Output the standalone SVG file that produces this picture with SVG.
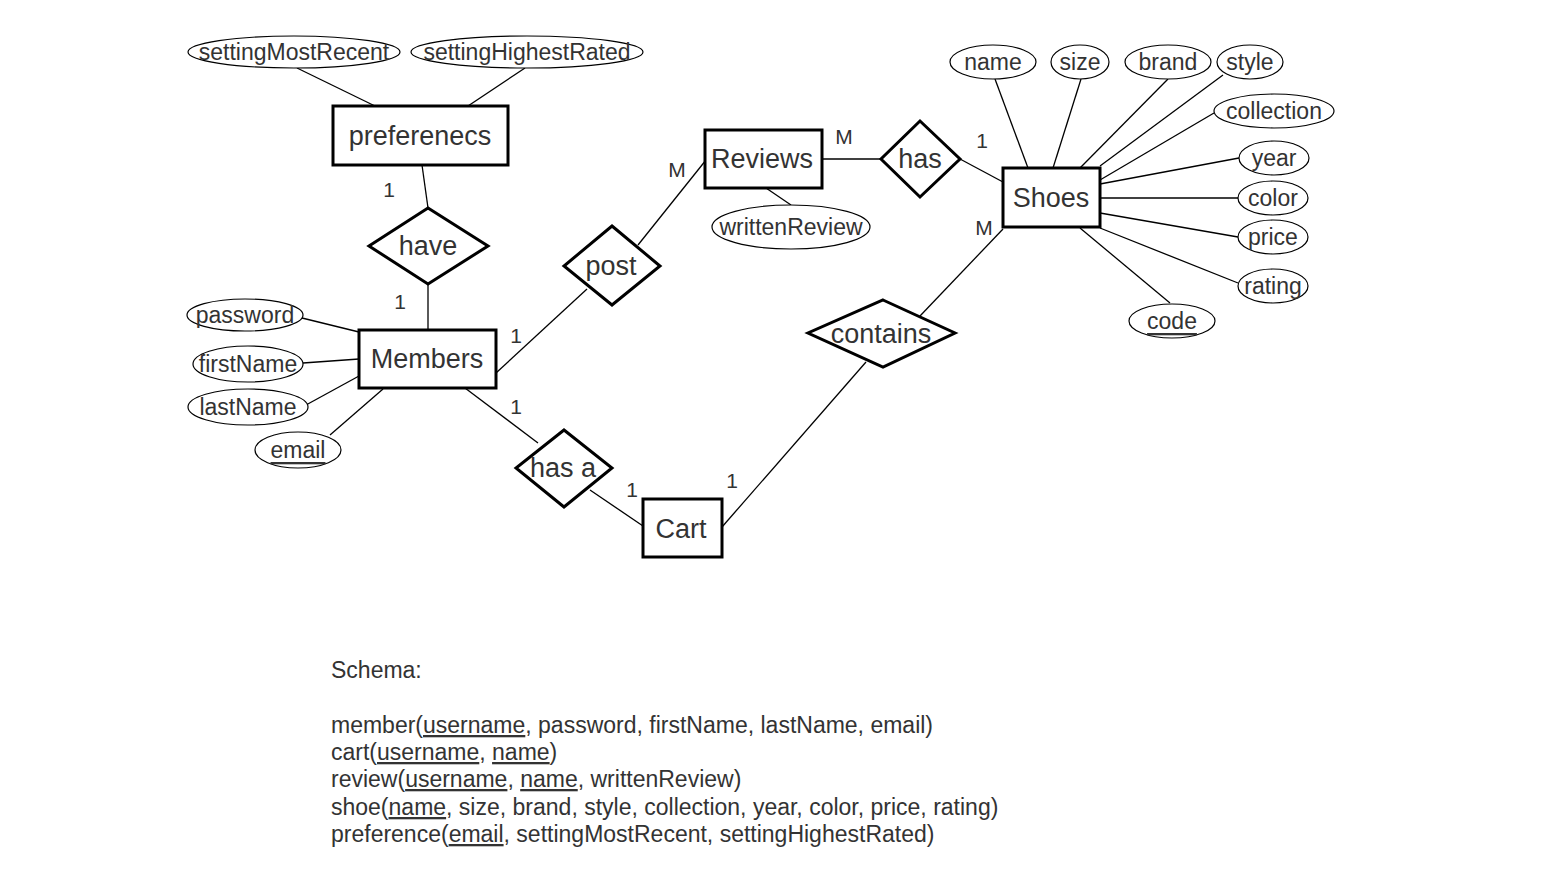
<svg xmlns="http://www.w3.org/2000/svg" width="1562" height="879" viewBox="0 0 1562 879">
<style>
text{font-family:"Liberation Sans",Arial,sans-serif;fill:#333}
.ent{fill:#fff;stroke:#000;stroke-width:3}
.rel{fill:#fff;stroke:#000;stroke-width:3}
.att{fill:#fff;stroke:#000;stroke-width:1.2}
.big{font-size:27px;text-anchor:middle;dominant-baseline:central}
.mid{font-size:23px;text-anchor:middle;dominant-baseline:central}
.lab{font-size:21px;text-anchor:middle;dominant-baseline:central}
.conn line{stroke:#000;stroke-width:1.3}
.sch{font-size:23px}
.u{text-decoration:underline}
</style>
<rect width="1562" height="879" fill="#fff"/>
<g class="conn" id="connectors">
<line x1="297" y1="68" x2="375" y2="106"/>
<line x1="525" y1="68" x2="468" y2="106"/>
<line x1="422" y1="165" x2="428" y2="208"/>
<line x1="428" y1="284" x2="428" y2="330"/>
<line x1="302" y1="318" x2="359" y2="332"/>
<line x1="303" y1="363" x2="359" y2="359"/>
<line x1="306" y1="405" x2="359" y2="376"/>
<line x1="330" y1="435" x2="383" y2="389"/>
<line x1="496" y1="373" x2="587" y2="289"/>
<line x1="638" y1="245" x2="706" y2="160"/>
<line x1="766" y1="188" x2="791" y2="205"/>
<line x1="822" y1="159" x2="881" y2="159"/>
<line x1="960" y1="159" x2="1003" y2="182"/>
<line x1="995" y1="79" x2="1028" y2="168"/>
<line x1="1081" y1="79" x2="1053" y2="168"/>
<line x1="1168" y1="79" x2="1080" y2="168"/>
<line x1="1223" y1="75" x2="1100" y2="166"/>
<line x1="1214" y1="113" x2="1100" y2="180"/>
<line x1="1239" y1="158" x2="1100" y2="184"/>
<line x1="1238" y1="198" x2="1100" y2="198"/>
<line x1="1238" y1="237" x2="1100" y2="213"/>
<line x1="1238" y1="283" x2="1100" y2="228"/>
<line x1="1170" y1="303" x2="1080" y2="228"/>
<line x1="1003" y1="229" x2="920" y2="316"/>
<line x1="866" y1="362" x2="722" y2="527"/>
<line x1="465" y1="388" x2="538" y2="443"/>
<line x1="590" y1="490" x2="643" y2="526"/>
</g>
<g id="labels">
<text class="lab" x="389" y="189">1</text>
<text class="lab" x="400" y="301">1</text>
<text class="lab" x="516" y="335">1</text>
<text class="lab" x="677" y="169">M</text>
<text class="lab" x="844" y="136">M</text>
<text class="lab" x="982" y="140">1</text>
<text class="lab" x="984" y="227">M</text>
<text class="lab" x="516" y="406">1</text>
<text class="lab" x="632" y="489">1</text>
<text class="lab" x="732" y="480">1</text>
</g>
<g id="settingMostRecent"><ellipse class="att" cx="294" cy="52" rx="106" ry="16"/><text class="mid" x="294" y="52">settingMostRecent</text></g>
<g id="settingHighestRated"><ellipse class="att" cx="527" cy="52" rx="116" ry="16"/><text class="mid" x="527" y="52">settingHighestRated</text></g>
<g id="preferenecs"><rect class="ent" x="333" y="106" width="175" height="59"/><text class="big" x="420" y="136">preferenecs</text></g>
<g id="have"><polygon class="rel" points="428,208 488,246 428,284 369,246"/><text class="big" x="428" y="246">have</text></g>
<g id="members"><rect class="ent" x="359" y="330" width="137" height="58"/><text class="big" x="427" y="359">Members</text></g>
<g id="password"><ellipse class="att" cx="245" cy="315" rx="58" ry="16"/><text class="mid" x="245" y="315">password</text></g>
<g id="firstName"><ellipse class="att" cx="248" cy="364" rx="55" ry="18"/><text class="mid" x="248" y="364">firstName</text></g>
<g id="lastName"><ellipse class="att" cx="248" cy="407" rx="60" ry="18"/><text class="mid" x="248" y="407">lastName</text></g>
<g id="email"><ellipse class="att" cx="298" cy="450" rx="43" ry="18"/><text class="mid u" x="298" y="450">email</text></g>
<g id="post"><polygon class="rel" points="612,226 660,266 612,305 564,266"/><text class="big" x="611" y="266">post</text></g>
<g id="reviews"><rect class="ent" x="705" y="130" width="117" height="58"/><text class="big" x="762" y="159">Reviews</text></g>
<g id="writtenReview"><ellipse class="att" cx="791" cy="227" rx="79" ry="22"/><text class="mid" x="791" y="227">writtenReview</text></g>
<g id="has"><polygon class="rel" points="920,121 960,159 920,197 881,159"/><text class="big" x="920" y="159">has</text></g>
<g id="shoes"><rect class="ent" x="1003" y="168" width="97" height="59"/><text class="big" x="1051" y="198">Shoes</text></g>
<g id="name"><ellipse class="att" cx="993" cy="62" rx="43" ry="17"/><text class="mid" x="993" y="62">name</text></g>
<g id="size"><ellipse class="att" cx="1080" cy="62" rx="29" ry="17"/><text class="mid" x="1080" y="62">size</text></g>
<g id="brand"><ellipse class="att" cx="1168" cy="62" rx="43" ry="17"/><text class="mid" x="1168" y="62">brand</text></g>
<g id="style"><ellipse class="att" cx="1250" cy="62" rx="33" ry="17"/><text class="mid" x="1250" y="62">style</text></g>
<g id="collection"><ellipse class="att" cx="1274" cy="111" rx="60" ry="17"/><text class="mid" x="1274" y="111">collection</text></g>
<g id="year"><ellipse class="att" cx="1274" cy="158" rx="35" ry="17"/><text class="mid" x="1274" y="158">year</text></g>
<g id="color"><ellipse class="att" cx="1273" cy="198" rx="35" ry="17"/><text class="mid" x="1273" y="198">color</text></g>
<g id="price"><ellipse class="att" cx="1273" cy="237" rx="35" ry="17"/><text class="mid" x="1273" y="237">price</text></g>
<g id="rating"><ellipse class="att" cx="1273" cy="286" rx="35" ry="17"/><text class="mid" x="1273" y="286">rating</text></g>
<g id="code"><ellipse class="att" cx="1172" cy="321" rx="43" ry="17"/><text class="mid u" x="1172" y="321">code</text></g>
<g id="contains"><polygon class="rel" points="883,300 955,333 883,367 808,333"/><text class="big" x="881" y="334">contains</text></g>
<g id="hasa"><polygon class="rel" points="564,430 612,468 564,507 516,468"/><text class="big" x="563" y="468">has a</text></g>
<g id="cart"><rect class="ent" x="643" y="499" width="79" height="58"/><text class="big" x="681" y="529">Cart</text></g>
<g id="schema">
<text class="sch" x="331" y="678">Schema:</text>
<text class="sch" x="331" y="733">member(<tspan class="u">username</tspan>, password, firstName, lastName, email)</text>
<text class="sch" x="331" y="760">cart(<tspan class="u">username</tspan>, <tspan class="u">name</tspan>)</text>
<text class="sch" x="331" y="787">review(<tspan class="u">username</tspan>, <tspan class="u">name</tspan>, writtenReview)</text>
<text class="sch" x="331" y="815">shoe(<tspan class="u">name</tspan>, size, brand, style, collection, year, color, price, rating)</text>
<text class="sch" x="331" y="842">preference(<tspan class="u">email</tspan>, settingMostRecent, settingHighestRated)</text>
</g>
</svg>
